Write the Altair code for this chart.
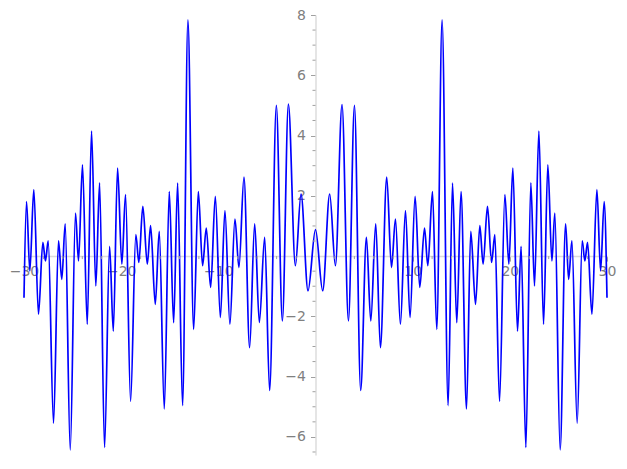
import altair as alt
import pandas as pd

# Local extrema of the curve (x, y)
left_x = [-30.0, -29.74, -29.40, -28.99, -28.51, -28.06, -27.79, -27.51, -26.96, -26.45,
          -26.11, -25.76, -25.24, -24.70, -24.39, -23.98, -23.49, -23.05, -22.61, -22.22,
          -21.71, -21.19, -20.81, -20.37, -19.93, -19.55, -19.03, -18.49, -18.18, -17.77,
          -17.31, -16.97, -16.49, -16.08, -15.56, -15.05, -14.60, -14.19, -13.68, -13.13,
          -12.54, -12.06, -11.62, -11.24, -10.79, -10.31, -9.79, -9.32, -8.81, -8.29,
          -7.88, -7.36, -6.78, -6.26, -5.78, -5.23, -4.72, -4.03, -3.41, -2.79,
          -2.07, -1.49, -0.77]
left_y = [-1.38, 1.81, -0.49, 2.21, -1.93, 0.46, -0.16, 0.51, -5.54, 0.51,
          -0.77, 1.07, -6.43, 1.43, -0.16, 3.03, -2.26, 4.15, -0.99, 2.43,
          -6.35, 0.32, -2.49, 2.92, -0.27, 2.04, -4.82, 0.71, -0.21, 1.65,
          -0.27, 1.01, -1.60, 0.82, -5.07, 2.14, -2.21, 2.42, -4.96, 7.84,
          -2.43, 2.14, -0.32, 0.93, -1.04, 1.98, -2.04, 1.51, -2.26, 1.23,
          -0.38, 2.62, -3.04, 1.07, -2.20, 0.62, -4.46, 5.00, -2.15, 5.04,
          -0.32, 2.06, -1.15]
mid_x = [0.0]
mid_y = [0.88]
right_x = [0.74, 1.46, 2.05, 2.73, 3.39, 4.01, 4.65, 5.24, 5.69, 6.20,
           6.68, 7.33, 7.82, 8.23, 8.74, 9.26, 9.73, 10.25, 10.73, 11.22,
           11.56, 12.04, 12.48, 13.03, 13.65, 14.10, 14.54, 14.98, 15.54, 15.98,
           16.47, 16.91, 17.25, 17.70, 18.12, 18.46, 18.94, 19.49, 19.90, 20.31,
           20.79, 21.16, 21.65, 22.16, 22.54, 22.99, 23.47, 23.91, 24.33, 24.63,
           25.18, 25.74, 26.05, 26.39, 26.93, 27.45, 27.72, 28.00, 28.45, 28.96,
           29.34, 29.71, 30.0]
right_y = [-1.15, 2.06, -0.32, 5.03, -2.15, 5.00, -4.46, 0.62, -2.15, 1.07,
           -3.04, 2.62, -0.38, 1.23, -2.26, 1.51, -2.04, 1.98, -1.04, 0.93,
           -0.32, 2.14, -2.43, 7.84, -4.96, 2.42, -2.21, 2.14, -5.07, 0.82,
           -1.60, 1.01, -0.27, 1.65, -0.21, 0.71, -4.82, 2.04, -0.27, 2.92,
           -2.49, 0.32, -6.35, 2.43, -0.99, 4.15, -2.26, 3.03, -0.16, 1.43,
           -6.43, 1.07, -0.77, 0.51, -5.54, 0.51, -0.16, 0.46, -1.93, 2.21,
           -0.49, 1.81, -1.38]

x_major = [-30, -20, -10, 10, 20, 30]
y_major = [-6, -4, -2, 2, 4, 6, 8]
x_minor = [-28, -26, -24, -22, -18, -16, -14, -12, -8, -6, -4, -2,
           2, 4, 6, 8, 12, 14, 16, 18, 22, 24, 26, 28]
y_minor = [-6.5, -5.5, -5, -4.5, -3.5, -3, -2.5, -1.5, -1, -0.5,
           0.5, 1, 1.5, 2.5, 3, 3.5, 4.5, 5, 5.5, 6.5, 7, 7.5]

X_DOM = [-30, 30]
Y_DOM = [-6.6, 8.0]
W, H = 583, 440
zero_px = W * (0 - X_DOM[0]) / (X_DOM[1] - X_DOM[0])
zero_py = H * (Y_DOM[1] - 0) / (Y_DOM[1] - Y_DOM[0])

AX_LINE = "#dcdcdc"
TICK = "#a0a0a0"
LABEL = "#808080"
FONT = "DejaVu Sans"

curve = pd.DataFrame({"x": left_x + mid_x + right_x, "y": left_y + mid_y + right_y})

xs = alt.Scale(domain=X_DOM, nice=False, zero=False)
ys = alt.Scale(domain=Y_DOM, nice=False, zero=False)

common_axis = dict(domainColor=AX_LINE, domainWidth=1.5, tickColor=TICK, tickSize=5,
                   labelColor=LABEL, labelFont=FONT, labelFontSize=14, grid=False,
                   title=None, labelOverlap=False, labelFlush=False,
                   labelExpr="replace(datum.label, '-', '\u2212')")

x_axis = alt.Axis(values=x_major, orient="bottom", offset=-(H - zero_py), labelPadding=3, **common_axis)
y_axis = alt.Axis(values=y_major, orient="left", offset=-zero_px, labelPadding=5, **common_axis)

line = alt.Chart(curve).mark_line(color="#0000ff", strokeWidth=1.7, interpolate="monotone").encode(
    x=alt.X("x:Q", scale=xs, axis=x_axis, title=None),
    y=alt.Y("y:Q", scale=ys, axis=y_axis, title=None),
    order="x:Q",
)

xm = alt.Chart(pd.DataFrame({"v": x_minor})).mark_rule(color=TICK, strokeWidth=1).encode(
    x=alt.X("v:Q", scale=xs, axis=x_axis, title=None),
    y=alt.value(zero_py),
    y2=alt.value(zero_py + 3),
)
ym = alt.Chart(pd.DataFrame({"v": y_minor})).mark_rule(color=TICK, strokeWidth=1).encode(
    y=alt.Y("v:Q", scale=ys, axis=y_axis, title=None),
    x=alt.value(zero_px - 3),
    x2=alt.value(zero_px),
)

chart = alt.layer(line, xm, ym).properties(
    width=W, height=H, autosize="none",
    padding={"left": 16, "top": 7, "right": 12, "bottom": 6},
).configure_view(stroke=None)

chart.save("out.html", embed_options={"renderer": "svg", "actions": False})
